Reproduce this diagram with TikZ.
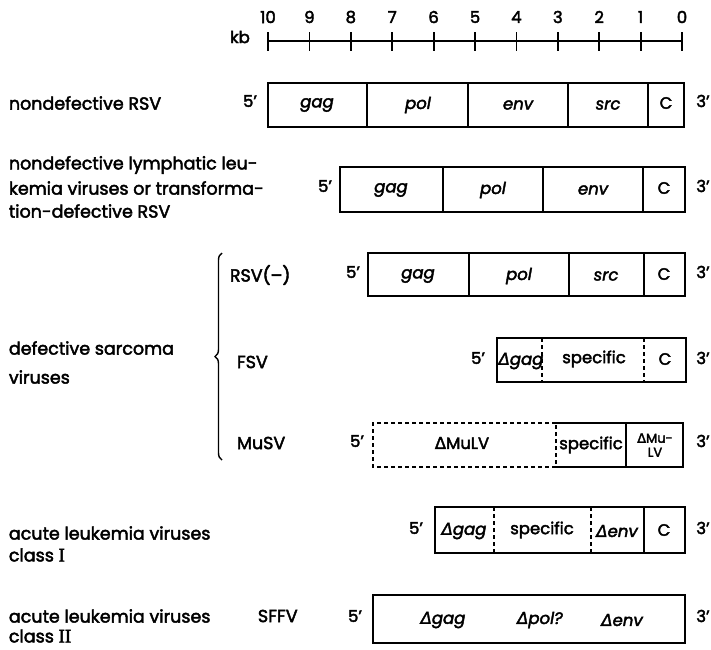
\documentclass[tikz,border=0pt]{standalone}
\usepackage{fontspec}
\setmainfont{Poppins}[FakeBold=2.5, ItalicFeatures={FakeBold=2.5}]
\newfontfamily\dvs{DejaVu Sans}[FakeBold=2]
\newfontfamily\rmI{Liberation Serif}[FakeBold=2.5]
\usetikzlibrary{decorations.pathreplacing}
\begin{document}
\begin{tikzpicture}[x=1pt,y=-1pt, line width=1.8pt,
  lbl/.style={anchor=west, inner sep=0, font=\fontsize{17.5}{20}\selectfont},
  txt/.style={inner sep=0, font=\fontsize{16.5}{20}\selectfont},
  gene/.style={inner sep=0, font=\fontsize{16.5}{20}\selectfont\itshape},
  small/.style={inner sep=0, font=\fontsize{13}{13}\selectfont, align=center},
  dsh/.style={dash pattern=on 4pt off 3pt}]
\useasboundingbox (0,0) rectangle (711,649);
\newcommand{\D}{{\dvs\char"0394}}
\newcommand{\p}{\char39}
\newcommand{\RN}[1]{{\rmI\fontsize{19}{20}\selectfont #1}}
% scale
\draw (268,41) -- (682,41);
\foreach \k in {0,...,10} {
  \draw ({682-41.4*\k},32) -- ({682-41.4*\k},51);
  \node[txt] (t\k) at ({682-41.4*\k},17) {\k};
}
\node[txt] (kb) at (240,37) {kb};

% row 1
\node[lbl] (l1) at (8,103) {nondefective RSV};
\node[txt] (r1a) at (250,101) {5\p};
\node[txt] (r1b) at (703,101) {3\p};
\draw (268,83) rectangle (684,127);
\foreach \x in {367,468,568,648} \draw (\x,83) -- (\x,127);
\node[gene] (r1g) at (317,105) {gag};
\node[gene] (r1p) at (418,105) {pol};
\node[gene] (r1e) at (518,105) {env};
\node[gene] (r1s) at (608,105) {src};
\node[txt] (r1c) at (666,103) {C};

% row 2
\node[lbl] (l2a) at (8,165) {nondefective lymphatic leu-};
\node[lbl] (l2b) at (8,188) {kemia viruses or transforma-};
\node[lbl] (l2c) at (8,211) {tion-defective RSV};
\node[txt] (r2a) at (325,186) {5\p};
\node[txt] (r2b) at (703,186) {3\p};
\draw (340,167) rectangle (685,212);
\foreach \x in {443,543,643} \draw (\x,167) -- (\x,212);
\node[gene] (r2g) at (391,190) {gag};
\node[gene] (r2p) at (493,190) {pol};
\node[gene] (r2e) at (593,190) {env};
\node[txt] (r2c) at (664,188) {C};

% defective sarcoma
\node[lbl] (l3a) at (8,348) {defective sarcoma};
\node[lbl] (l3b) at (8,377) {viruses};
\draw[line width=1.4pt, decorate, decoration={brace, amplitude=7pt}] (222,460) -- (222,253);
\node[lbl] (n3) at (229,275) {RSV(--)};
\node[lbl] (n4) at (236,362) {FSV};
\node[lbl] (n5) at (236,443) {MuSV};

% RSV(-)
\node[txt] (r3a) at (353,272) {5\p};
\node[txt] (r3b) at (703,272) {3\p};
\draw (368,253) rectangle (685,296);
\foreach \x in {469,569,644} \draw (\x,253) -- (\x,296);
\node[gene] (r3g) at (418,276) {gag};
\node[gene] (r3p) at (519,276) {pol};
\node[gene] (r3s) at (606,276) {src};
\node[txt] (r3c) at (664,274) {C};

% FSV
\node[txt] (r4a) at (478,358) {5\p};
\node[txt] (r4b) at (703,358) {3\p};
\draw (497,338) rectangle (686,382);
\foreach \x in {542,644} \draw[dsh] (\x,338) -- (\x,382);
\node[gene] (r4g) at (521,361) {\D gag};
\node[txt] (r4s) at (594,359) {specific};
\node[txt] (r4c) at (665,359) {C};

% MuSV
\node[txt] (r5a) at (357,441) {5\p};
\node[txt] (r5b) at (703,441) {3\p};
\draw[dsh] (556,423) -- (373,423) -- (373,467) -- (556,467) -- cycle;
\draw (556,423) -- (683,423) -- (683,467) -- (556,467);
\draw (626,423) -- (626,467);
\node[txt] (r5m) at (462,443) {\D MuLV};
\node[txt] (r5s) at (591,445) {specific};
\node[small] (r5d) at (655,445) {\D Mu-\\[1pt]LV};

% acute I
\node[lbl] (l6a) at (8,533) {acute leukemia viruses};
\node[lbl] (l6b) at (8,555) {class \RN{I}};
\node[txt] (r6a) at (416,528) {5\p};
\node[txt] (r6b) at (703,528) {3\p};
\draw (435,507) rectangle (685,553);
\foreach \x in {494,591} \draw[dsh] (\x,507) -- (\x,553);
\draw (644,507) -- (644,553);
\node[gene] (r6g) at (464,531) {\D gag};
\node[txt] (r6s) at (542,530) {specific};
\node[gene] (r6e) at (617,531) {\D env};
\node[txt] (r6c) at (664,530) {C};

% SFFV
\node[lbl] (l7a) at (8,616) {acute leukemia viruses};
\node[lbl] (l7b) at (8,636) {class \RN{II}};
\node[lbl] (n7) at (257,616) {SFFV};
\node[txt] (r7a) at (355,616) {5\p};
\node[txt] (r7b) at (703,616) {3\p};
\draw (373,595) rectangle (685,643);
\node[gene] (r7g) at (443,620) {\D gag};
\node[gene] (r7p) at (540,620) {\D pol?};
\node[gene] (r7e) at (622,620) {\D env};
\end{tikzpicture}
\end{document}
